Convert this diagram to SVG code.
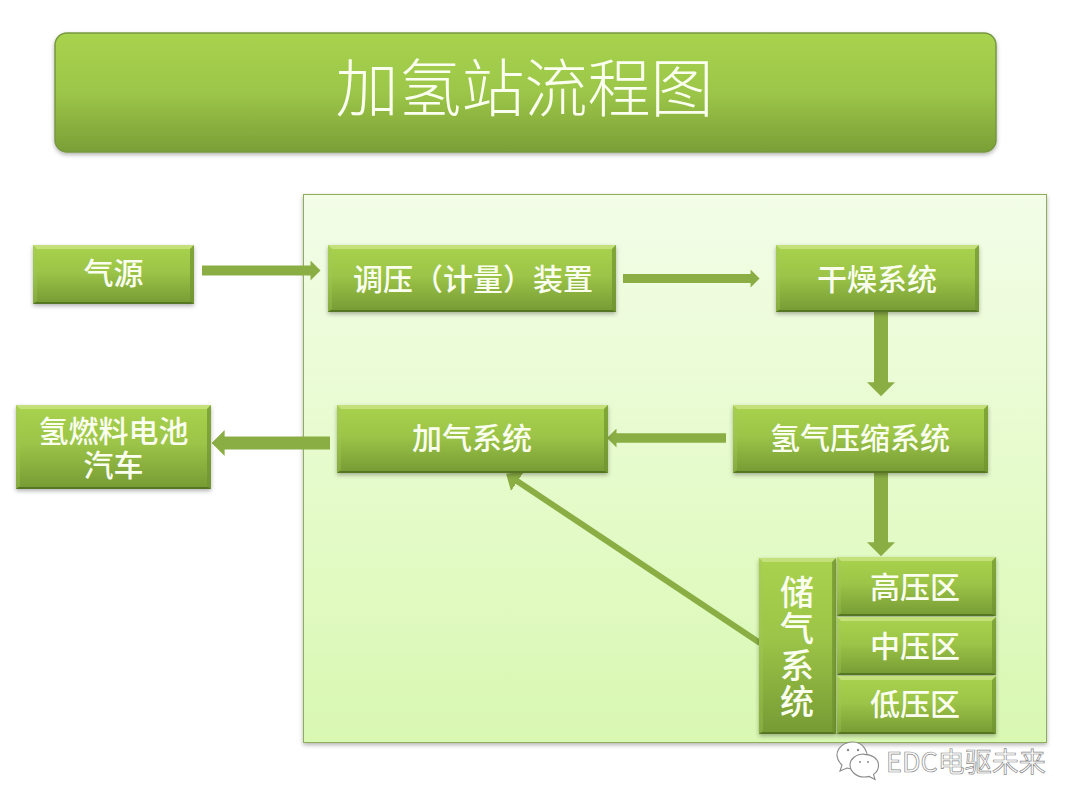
<svg xmlns="http://www.w3.org/2000/svg" width="1080" height="810" viewBox="0 0 1080 810">
<style>
.face{fill:url(#nodeFill);filter:url(#soft)}
.top{fill:#c3e07a}
.left{fill:#a3c957;opacity:.35}
.right{fill:#6f9330;opacity:.7}
.bottom{fill:#577624}
.lbl{font-family:"Noto Sans CJK SC","Liberation Sans",sans-serif;font-size:30px;font-weight:500;fill:#fbfff0;text-anchor:middle}
.conn{stroke:#8aae44;fill:none;marker-end:url(#head)}
.wm{font-family:"Noto Sans CJK SC","Liberation Sans",sans-serif;font-size:27px;fill:#fff;stroke:#8a8a8a;stroke-width:.7px}
.bub{fill:#fff;stroke:#8a8a8a;stroke-width:1.1}
</style>
<defs>
<linearGradient id="nodeFill" x1="0" y1="0" x2="0" y2="1"><stop offset="0" stop-color="#a9d24f"/><stop offset=".45" stop-color="#9cc548"/><stop offset="1" stop-color="#769a34"/></linearGradient>
<linearGradient id="titleFill" x1="0" y1="0" x2="0" y2="1"><stop offset="0" stop-color="#a8d34f"/><stop offset=".5" stop-color="#9cc648"/><stop offset="1" stop-color="#7a9f37"/></linearGradient>
<linearGradient id="panelFill" x1="0" y1="0" x2="0" y2="1"><stop offset="0" stop-color="#f3fde8"/><stop offset=".5" stop-color="#e6fbcc"/><stop offset="1" stop-color="#d9f8b2"/></linearGradient>
<filter id="soft" x="-5%" y="-10%" width="110%" height="125%"><feDropShadow dx="0" dy="2" stdDeviation="2" flood-color="#000" flood-opacity=".3"/></filter>
<marker id="head" viewBox="0 0 10 20" refX="0.5" refY="10" markerWidth="1.05" markerHeight="2" orient="auto" markerUnits="strokeWidth"><path d="M0 0L10 10L0 20Z" fill="#8aae44"/></marker>
<marker id="headWide" viewBox="0 0 10 17" refX="0.5" refY="8.500" markerWidth="2.300" markerHeight="3.910" orient="auto" markerUnits="strokeWidth"><path d="M0 0L10 8.500L0 17Z" fill="#8aae44"/></marker>
</defs>

<rect width="1080" height="810" fill="#fff"/>

<g id="panel"><rect x="303.500" y="194.500" width="743" height="548" fill="url(#panelFill)" stroke="#8fae5c" filter="url(#soft)"/></g>

<g id="title">
<rect x="55" y="33" width="941" height="119" rx="12" fill="url(#titleFill)" stroke="#779840" stroke-width="1.500" filter="url(#soft)"/>
<text x="524.500" y="111" text-anchor="middle" font-family="'Noto Sans CJK SC','Liberation Sans',sans-serif" font-size="63" font-weight="300" fill="#fbfff0">加氢站流程图</text>
</g>

<g id="connectors" stroke-linecap="butt">
<line class="conn" x1="202" y1="270.500" x2="311" y2="270.500" stroke-width="10"/>
<line class="conn" x1="623" y1="278.500" x2="751" y2="278.500" stroke-width="9"/>
<line class="conn" x1="881" y1="312" x2="881" y2="383" stroke-width="14"/>
<line class="conn" x1="726" y1="438" x2="616" y2="438" stroke-width="9.500"/>
<line class="conn" x1="330" y1="443" x2="224" y2="443" stroke-width="13"/>
<line class="conn" x1="881" y1="472" x2="881" y2="543" stroke-width="14"/>
<line x1="760" y1="643" x2="517" y2="481" stroke="#8aae44" stroke-width="6" fill="none" marker-end="url(#headWide)"/>
</g>

<g id="node-source">
<rect class="face" x="33" y="245" width="161" height="59"/>
<polygon class="top" points="33,245 194,245 190,249 37,249"/>
<polygon class="left" points="33,245 37,249 37,301 33,304"/>
<polygon class="right" points="194,245 190,249 190,301 194,304"/>
<polygon class="bottom" points="33,304 194,304 191,302 36,302"/>
<text class="lbl" x="113.500" y="284">气源</text>
</g>

<g id="node-regulator">
<rect class="face" x="328" y="245" width="288" height="67"/>
<polygon class="top" points="328,245 616,245 612,249 332,249"/>
<polygon class="left" points="328,245 332,249 332,309 328,312"/>
<polygon class="right" points="616,245 612,249 612,309 616,312"/>
<polygon class="bottom" points="328,312 616,312 613,310 331,310"/>
<text class="lbl" x="473" y="290">调压（计量）装置</text>
</g>

<g id="node-dryer">
<rect class="face" x="776" y="245" width="203" height="67"/>
<polygon class="top" points="776,245 979,245 975,249 780,249"/>
<polygon class="left" points="776,245 780,249 780,309 776,312"/>
<polygon class="right" points="979,245 975,249 975,309 979,312"/>
<polygon class="bottom" points="776,312 979,312 976,310 779,310"/>
<text class="lbl" x="877" y="290">干燥系统</text>
</g>

<g id="node-compressor">
<rect class="face" x="733" y="405" width="255" height="68"/>
<polygon class="top" points="733,405 988,405 984,409 737,409"/>
<polygon class="left" points="733,405 737,409 737,470 733,473"/>
<polygon class="right" points="988,405 984,409 984,470 988,473"/>
<polygon class="bottom" points="733,473 988,473 985,471 736,471"/>
<text class="lbl" x="860" y="449">氢气压缩系统</text>
</g>

<g id="node-dispenser">
<rect class="face" x="337" y="405" width="271" height="68"/>
<polygon class="top" points="337,405 608,405 604,409 341,409"/>
<polygon class="left" points="337,405 341,409 341,470 337,473"/>
<polygon class="right" points="608,405 604,409 604,470 608,473"/>
<polygon class="bottom" points="337,473 608,473 605,471 340,471"/>
<text class="lbl" x="472" y="449">加气系统</text>
</g>

<g id="node-vehicle">
<rect class="face" x="16" y="405" width="195" height="84"/>
<polygon class="top" points="16,405 211,405 207,409 20,409"/>
<polygon class="left" points="16,405 20,409 20,486 16,489"/>
<polygon class="right" points="211,405 207,409 207,486 211,489"/>
<polygon class="bottom" points="16,489 211,489 208,487 19,487"/>
<text class="lbl" x="113.500" y="442">氢燃料电池<tspan x="113.500" dy="34">汽车</tspan></text>
</g>

<g id="node-storage">
<rect class="face" x="759" y="558" width="77" height="176"/>
<polygon class="top" points="759,558 836,558 832,562 763,562"/>
<polygon class="left" points="759,558 763,562 763,731 759,734"/>
<polygon class="right" points="836,558 832,562 832,731 836,734"/>
<polygon class="bottom" points="759,734 836,734 833,732 762,732"/>
<text class="lbl" x="797" y="648" style="font-size:34px;letter-spacing:2.500px;writing-mode:vertical-rl">储气系统</text>
</g>

<g id="node-high">
<rect class="face" x="837" y="557" width="159" height="59"/>
<polygon class="top" points="837,557 996,557 992,561 841,561"/>
<polygon class="left" points="837,557 841,561 841,613 837,616"/>
<polygon class="right" points="996,557 992,561 992,613 996,616"/>
<polygon class="bottom" points="837,616 996,616 993,614 840,614"/>
<text class="lbl" x="915" y="598">高压区</text>
</g>

<g id="node-mid">
<rect class="face" x="837" y="617" width="159" height="58"/>
<polygon class="top" points="837,617 996,617 992,621 841,621"/>
<polygon class="left" points="837,617 841,621 841,672 837,675"/>
<polygon class="right" points="996,617 992,621 992,672 996,675"/>
<polygon class="bottom" points="837,675 996,675 993,673 840,673"/>
<text class="lbl" x="915" y="657">中压区</text>
</g>

<g id="node-low">
<rect class="face" x="837" y="676" width="159" height="58"/>
<polygon class="top" points="837,676 996,676 992,680 841,680"/>
<polygon class="left" points="837,676 841,680 841,731 837,734"/>
<polygon class="right" points="996,676 992,680 992,731 996,734"/>
<polygon class="bottom" points="837,734 996,734 993,732 840,732"/>
<text class="lbl" x="915" y="715">低压区</text>
</g>

<g id="watermark">
<path class="bub" d="M853 742c-9 0-16 6-16 13 0 4 2 7 5 10l-2 6 7-3c2 .6 4 1 6 1 6 0 12-3 14-8 2-9-4-19-14-19z"/>
<path class="bub" d="M864 754c-8 0-14 5-14 11s6 12 14 12c2 0 3 0 5-.6l6 3-1.500-5c3-2 5-5 5-9 0-7-7-11-14-11z"/>
<circle cx="848" cy="750" r="1.200" fill="#8a8a8a"/><circle cx="858" cy="750" r="1.200" fill="#8a8a8a"/>
<circle cx="860" cy="762" r="1" fill="#8a8a8a"/><circle cx="868" cy="762" r="1" fill="#8a8a8a"/>
<text class="wm" x="886" y="772">EDC电驱未来</text>
</g>
</svg>
